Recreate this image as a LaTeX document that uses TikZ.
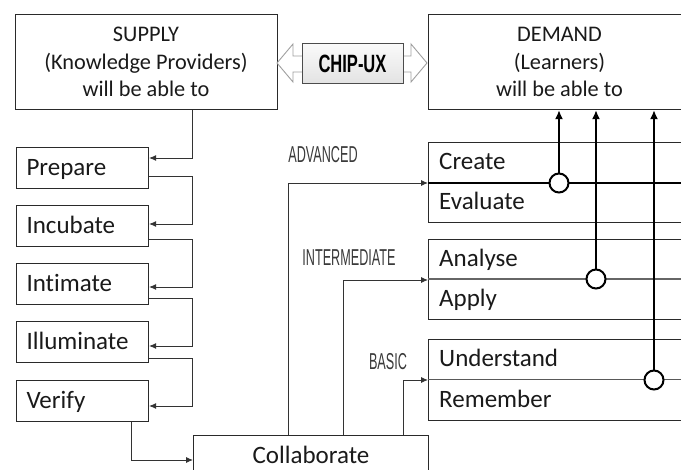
\documentclass[tikz,border=0pt]{standalone}
\usepackage{fontspec}
\setmainfont[Ligatures=NoCommon]{Carlito}
\newfontfamily\chipfont[FakeStretch=0.66]{Liberation Sans}
\newfontfamily\lvlfont[FakeStretch=0.55]{Liberation Sans}
\usetikzlibrary{arrows.meta,calc}
\definecolor{bord}{HTML}{2A2A2A}
\definecolor{conn}{HTML}{333333}
\definecolor{txt}{HTML}{1A1A1A}
\definecolor{lvl}{HTML}{3A3A3A}
\begin{document}
\begin{tikzpicture}[x=1pt,y=-1pt,
  box/.style={draw=bord, line width=1.1pt, fill=white, inner sep=0pt, anchor=north west},
  lbox/.style={box, minimum width=132pt, minimum height=41pt, text width=112pt, align=left,
    inner xsep=10pt, text height=15.5pt, text depth=0pt, font=\fontsize{25}{29}\selectfont, text=txt},
  hdr/.style={anchor=base, font=\fontsize{22.3}{27}\selectfont, text=txt, inner sep=0pt},
  rowtxt/.style={anchor=base west, font=\fontsize{25}{29}\selectfont, text=txt, inner sep=0pt},
  lvllbl/.style={anchor=base, font=\fontsize{23}{27}\lvlfont, text=lvl, inner sep=0pt},
  cn/.style={draw=conn, line width=0.9pt, -{Latex[length=7pt,width=6pt]}},
  tk/.style={draw=black, line width=2pt, -{Latex[length=9pt,width=8pt]}},
  circ/.style={circle, draw=black, line width=2pt, fill=white, minimum size=19pt, inner sep=0pt}]
\useasboundingbox (0,0) rectangle (681,470);
\clip (0,0) rectangle (681,470);
\fill[white] (0,0) rectangle (681,470);

% header boxes
\node[box, minimum width=262pt, minimum height=95pt] (supply) at (15,14) {};
\node[hdr] (s1) at (146,42) {SUPPLY};
\node[hdr] (s2) at (146,69.5) {(Knowledge Providers)};
\node[hdr] (s3) at (146,96.5) {will be able to};

\node[box, minimum width=270pt, minimum height=95pt] (demand) at (428,14) {};
\node[hdr] (d1) at (559.5,42) {DEMAND};
\node[hdr] (d2) at (559.5,69.5) {(Learners)};
\node[hdr] (d3) at (559.5,96.5) {will be able to};

% CHIP-UX double arrow
\draw[draw=gray!75, fill=white, line width=0.9pt]
  (277,63) -- (293,44) -- (293,56) -- (411,56) -- (411,44) -- (427,63)
  -- (411,82) -- (411,72) -- (293,72) -- (293,82) -- cycle;
\node[draw=gray!60!black, line width=0.9pt, top color=gray!4, bottom color=gray!22,
  minimum width=101pt, minimum height=40pt, anchor=north west, inner sep=0pt] (chip) at (302,43) {};
\node[anchor=base, font=\fontsize{25}{30}\chipfont\bfseries, inner sep=0pt] (chiptxt) at (352.5,73) {CHIP-UX};

% left column
\node[lbox] (prep) at (16,147) {Prepare};
\node[lbox] (incu) at (16,205) {Incubate};
\node[lbox] (inti) at (16,263) {Intimate};
\node[lbox] (illu) at (16,321) {Illuminate};
\node[lbox] (veri) at (16,380) {Verify};

% collaborate
\node[box, minimum width=235pt, minimum height=41pt, text height=15.5pt, text depth=0pt,
  font=\fontsize{25}{29}\selectfont, text=txt] (collab) at (193,435) {Collaborate};

\draw[cn] (supply.south -| 192,0) -- (192,158) -- (prep.east |- 0,158);
\draw[cn] (prep.east |- 0,176) -- (192,176) -- (192,224) -- (incu.east |- 0,224);
\draw[cn] (incu.east |- 0,239) -- (192,239) -- (192,287) -- (inti.east |- 0,287);
\draw[cn] (inti.east |- 0,298) -- (192,298) -- (192,346) -- (illu.east |- 0,346);
\draw[cn] (illu.east |- 0,358) -- (192,358) -- (192,406) -- (veri.east |- 0,406);
\draw[cn] (veri.south -| 131,0) -- (131,460) -- (collab.west |- 0,460);

% right boxes
\node[box, minimum width=280pt, minimum height=80pt] (advbox) at (428,142) {};
\node[box, minimum width=280pt, minimum height=80pt] (intbox) at (428,239) {};
\node[box, minimum width=280pt, minimum height=81pt] (basbox) at (428,339) {};
\draw[line width=1.5pt, black] (advbox.west |- 0,183) -- (advbox.east |- 0,183);
\draw[line width=1.8pt, gray!80!black] (intbox.west |- 0,279) -- (intbox.east |- 0,279);
\draw[line width=1pt, gray!70!black] (basbox.west |- 0,380) -- (basbox.east |- 0,380);

\node[rowtxt] (create) at (439,170) {Create};
\node[rowtxt] (evaluate) at (439,210) {Evaluate};
\node[rowtxt] (analyse) at (439,266.5) {Analyse};
\node[rowtxt] (apply) at (439,306.5) {Apply};
\node[rowtxt] (underst) at (439,367) {Understand};
\node[rowtxt] (remember) at (439,407.5) {Remember};

% level connectors
\draw[cn] (collab.north -| 288,0) -- (288,183) -- (advbox.west |- 0,183);
\draw[cn] (collab.north -| 343,0) -- (343,280) -- (intbox.west |- 0,280);
\draw[cn] (collab.north -| 403,0) -- (403,380) -- (basbox.west |- 0,380);
\node[lvllbl] (advlbl) at (323,163) {ADVANCED};
\node[lvllbl] (intlbl) at (349,266) {INTERMEDIATE};
\node[lvllbl] (baslbl) at (388,370) {BASIC};

% thick arrows and circles
\coordinate (p1) at (559,183);
\coordinate (p2) at (596,279);
\coordinate (p3) at (654,380);
\draw[tk] (p1) -- (p1 |- demand.south);
\draw[tk] (p2) -- (p2 |- demand.south);
\draw[tk] (p3) -- (p3 |- demand.south);
\node[circ] (c1) at (p1) {};
\node[circ] (c2) at (p2) {};
\node[circ] (c3) at (p3) {};
\end{tikzpicture}
\end{document}
